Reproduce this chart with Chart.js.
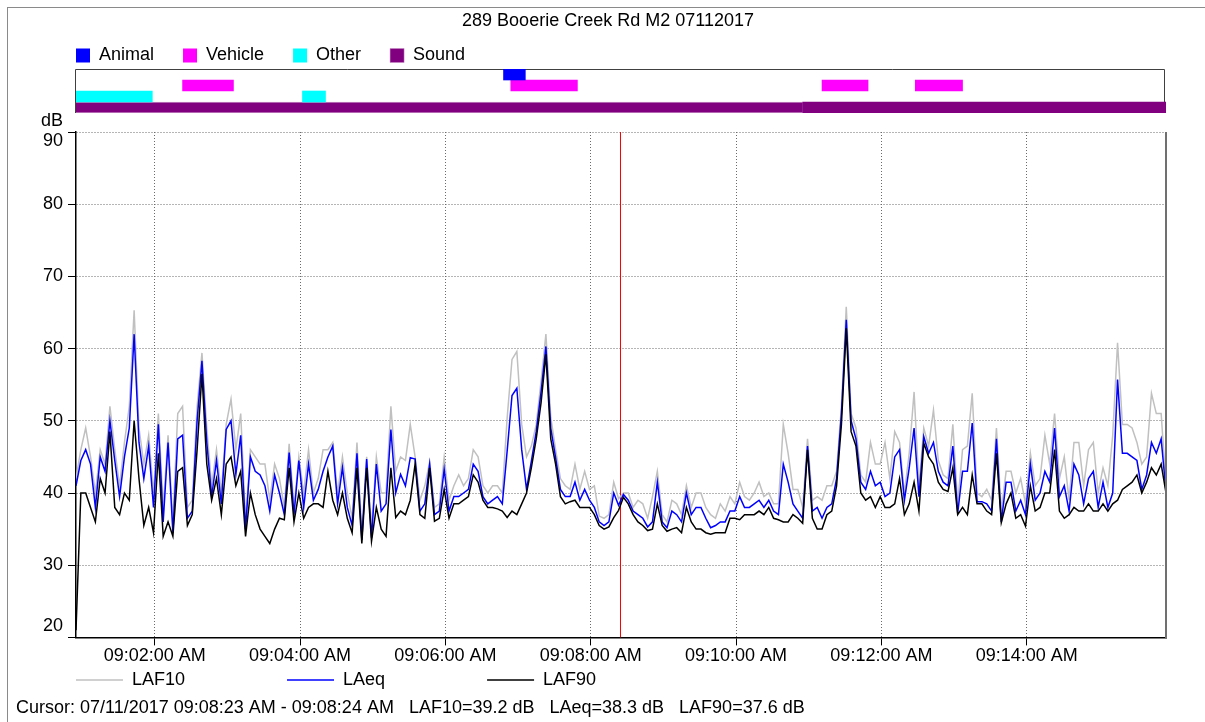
<!DOCTYPE html>
<html>
<head>
<meta charset="utf-8">
<script src="https://cdn.jsdelivr.net/npm/chart.js@4.4.1/dist/chart.umd.min.js"></script>
<style>
html,body{margin:0;padding:0;background:#fff;}
body{width:1205px;height:722px;position:relative;overflow:hidden;}
#frame{position:absolute;left:7px;top:7px;width:1198px;height:715px;border-left:1px solid #8a8a8a;border-top:1px solid #8a8a8a;box-sizing:border-box;}
#ev{position:absolute;left:0;top:0;}
#lv{position:absolute;left:0;top:100px;}
canvas{display:block;}
</style>
</head>
<body>
<div id="frame"></div>
<canvas id="ev" width="1205" height="118"></canvas>
<canvas id="lv" width="1205" height="622"></canvas>
<script>
// ---------- data ----------
const TITLE = '289 Booerie Creek Rd M2 07112017';
const DATE_TEXT = '07/11/2017';
const START_S = 55;   // seconds after 09:00:00
const STEP_S = 4;
const END_S = 955;
const X_TICKS = [120, 240, 360, 480, 600, 720, 840];
const Y_TICKS = [20, 30, 40, 50, 60, 70, 80, 90];
const SERIES_NAMES = ['LAF10', 'LAeq', 'LAF90'];

const LAF10 = [42,46,49,45,40,46,44,52,46,41,47,52,65.3,49,44,48,40,51,38,48,
36,51,52,38,39,52,59.4,49,41,46,40,49.5,53,46,51,36,46,45,44,44,
39,44,42,38,46.8,38,45,40,46,40,42,46,46,47,40,45,40,36.5,47,34.5,
45,35,45,40,40,52,43,45,44.5,49.5,45,39,41,44.3,38,38.5,45,39,41,42.5,
41,42,46,45,41,40,41,41,40,50.4,58.5,59.6,49.5,45,46.5,49.5,55.5,62,50.5,46,
42,41,40.5,44,40.5,43,40.5,41,36.8,36.5,37,41.5,39.2,40,40,38,39,38.5,36.5,39.5,
43,37,36,39,38.5,37,41,38,40,40,38,37,36.5,38.5,37.5,39.5,38.5,41.5,39.5,39,
40,41.5,39.5,40,38.5,38.5,49.5,45.5,40.5,40.5,38,47.5,39,39.5,39,41,41,43,52,65.8,
51,49,42.5,41.5,47,44,44,47,42,48.5,47,40,45.5,54,41,49,46.5,51.5,44.5,42.5,
42,49.5,38.5,46,46.5,53.8,40,39.5,40.5,39,49,37.5,43,43,40,42,38.5,45.5,41,42,
48,44,51,42,45,39,47,47,41,46,47,40,43.5,41,48,60.8,49.5,49.5,49,47,
44,45,53.8,51,51,41];

const LAEQ = [41,44.5,46,44,38,45,43,50,44.5,39.5,45,49,62,47,42,46.5,38,49.5,36,47,
34.5,47.5,48,36.5,37.5,50,58.3,47,39.5,44.5,38.5,48.8,50,42.6,48,35,45,43,42.5,41,
37.5,42.5,40,37,45.6,37,44.5,38,44,39,40.5,43,45,46.5,38.5,43.5,38,35.5,45.5,33.5,
44.7,33.8,44,37.5,38.5,48.8,40,42.6,41,44.9,44.7,37.5,38.5,44,37,37.5,43.3,37.5,39.5,39.5,
40,40.5,44,43,39.5,38.5,39,39.5,38.5,45.8,53.5,54.5,46,40.5,44.4,48.5,54,60.3,49,44.9,
40.5,39.5,39.5,41.5,39,40.5,39,38,36,35.5,36,40,38.3,39.8,39,37.5,37,36.5,35.3,36,
41.5,36,35.2,37.5,37,36,40,37,38,38,36.5,35.2,35.5,36,36,37.5,37.5,39.5,38,38,
38.5,39,38,39,37.5,37,44,41.5,38.5,37.5,36.5,46.5,37.5,38,36.5,38,38.5,42,51,64,
50,47.5,41.5,40.5,43,41,41.5,39.5,40,45,46,39,43.5,49,39.5,47.8,45.5,47,43,41.5,
41,46.5,37.2,43,43,49.7,38.8,38.8,38.5,37.5,47.5,36,41.5,41.5,37.5,39,37,44,39,40,
43,41.5,49,39.5,41,37.5,44,42.5,38.5,42,43,38,41.5,38,40,55.7,45.5,45.5,45,44.5,
40.5,42.5,47,45.5,47.5,40.2];

const LAF90 = [21,40,40,38,36,42,40,48.5,38,37,40,39,50,42,35.5,38,34.5,45.5,34,36,
34,43,43.5,35.5,37,46,56.5,44,39,42,37,44,45,41,43,34,40,37,35,34,
33,35,36.5,36.3,43.5,36,40,36.5,38,38.5,38.5,38,43,39,37,40,36.5,34.5,43.5,33,
43.5,33.3,38,35,34,43.5,36.6,37.5,37,39,44,37,36.5,43.5,36.1,36.5,40.5,36.5,38.5,38.5,
39,39.5,42.5,41.5,39,38,38,37.8,37.5,36.6,37.5,37,38.5,40,43.5,47.5,52.5,59.2,47.5,44,
39.5,38.5,38.8,39,38,38,38,37,35.5,35,35.3,36.6,37.6,39.4,38.5,37,36,35.5,34.8,35,
38.5,35.5,34.7,35,35.2,34.5,38,36,35,35,34.5,34.3,34.5,34.5,34.5,36.5,36.5,36.3,37,37,
37,37.5,37,38,36.5,36.3,36,36,37,36.5,35.8,46,36.5,35,35,37,37.5,41,49.5,62.8,
48.5,46.5,40,39,39.5,38,39.5,38,38,38.5,42,37,38.5,41.5,37.5,46.9,45,44,41.5,40.5,
40.2,43.5,37,38,37,42.5,38.5,38.5,37.5,37,45.5,35.9,38.5,40,36.5,37,35.4,41,37.5,38,
40,40,46,37.5,36.5,37,38,37.5,37.5,38.5,37.5,37.5,38.5,37.5,38.5,39,40.5,41,41.5,42.5,
40,41.5,43.5,42.5,44,40];

const EVENT_TYPES = ['Animal', 'Vehicle', 'Other', 'Sound'];
const ANIMAL_EVENTS = [[408, 426]];
const VEHICLE_EVENTS = [[143, 185], [414, 469], [671, 709], [748, 787]];
const OTHER_EVENTS = [[55, 118], [242, 261]];
const SOUND_EVENTS = [[55, 655], [655, 955]];

const CURSOR_RANGE = [503, 504];
const CURSOR_VALUES = [39.2, 38.3, 37.6];

// ---------- helpers ----------
function fmtTime(t) {
  const m = Math.floor(t / 60), s = Math.round(t % 60);
  return '09:' + String(m).padStart(2, '0') + ':' + String(s).padStart(2, '0') + ' AM';
}
const pts = arr => arr.map((v, i) => ({x: START_S + i * STEP_S, y: v}));
const CURSOR_TEXT = 'Cursor: ' + DATE_TEXT + ' ' + fmtTime(CURSOR_RANGE[0]) + ' - ' + fmtTime(CURSOR_RANGE[1]) +
  '   ' + SERIES_NAMES.map((n, k) => n + '=' + CURSOR_VALUES[k].toFixed(1) + ' dB').join('   ');

const FONT = '"Liberation Sans", Arial, sans-serif';
Chart.defaults.font.family = FONT;
Chart.defaults.font.size = 18;
Chart.defaults.color = '#000';

const blockPlace = {
  id: 'blockPlace',
  beforeDraw(chart, args, opts) {
    const lg = chart.legend;
    if (lg && opts.x != null) {
      const p = lg.options.labels.padding;
      lg.left = opts.x - p;
      lg.top = opts.y - p - opts.fs / 2;
    }
    const tb = chart.titleBlock;
    if (tb && opts.titleCenter != null) {
      const half = Math.min(opts.titleCenter, chart.width - opts.titleCenter);
      tb.left = opts.titleCenter - half;
      tb.right = opts.titleCenter + half;
      tb.width = 2 * half;
    }
  }
};

const eventFrame = {
  id: 'eventFrame',
  beforeDatasetsDraw(chart) {
    const a = chart.chartArea, c = chart.ctx;
    c.save();
    c.strokeStyle = '#404040';
    c.lineWidth = 1;
    c.beginPath();
    c.moveTo(a.left - 0.5, a.bottom);
    c.lineTo(a.left - 0.5, a.top + 0.5);
    c.lineTo(a.right - 1.5, a.top + 0.5);
    c.lineTo(a.right - 1.5, a.bottom);
    c.stroke();
    c.restore();
  }
};

const levelDecor = {
  id: 'levelDecor',
  beforeDatasetsDraw(chart) {
    const a = chart.chartArea, c = chart.ctx;
    const x = Math.round(chart.scales.x.getPixelForValue(CURSOR_RANGE[1])) + 0.5;
    c.save();
    c.strokeStyle = '#ff0000';
    c.lineWidth = 1;
    c.beginPath(); c.moveTo(x, a.top); c.lineTo(x, a.bottom); c.stroke();
    c.restore();
  },
  afterDatasetsDraw(chart) {
    const a = chart.chartArea, c = chart.ctx;
    c.save();
    c.strokeStyle = '#707070';
    c.lineWidth = 2;
    c.beginPath(); c.moveTo(a.right, a.top); c.lineTo(a.right, a.bottom + 1); c.stroke();
    c.restore();
  },
  afterDraw(chart) {
    const ys = chart.scales.y, c = chart.ctx;
    const xr = ys.right - 8 - 5;
    c.save();
    c.font = '18px ' + FONT;
    c.fillStyle = '#000';
    c.textAlign = 'right';
    c.textBaseline = 'middle';
    const top = Y_TICKS[Y_TICKS.length - 1], bot = Y_TICKS[0];
    c.fillText(String(top), xr, ys.getPixelForValue(top) + 9.5);
    c.fillText(String(bot), xr, ys.getPixelForValue(bot) - 11);
    c.fillText('dB', xr, chart.chartArea.top - 11);
    c.restore();
  }
};

// ---------- event chart ----------
const EVENT_SETS = [ANIMAL_EVENTS, VEHICLE_EVENTS, OTHER_EVENTS, SOUND_EVENTS];
const EVENT_COLORS = ['#0000ff', '#ff00ff', '#00ffff', '#800080'];

new Chart(document.getElementById('ev'), {
  type: 'bar',
  data: {
    labels: EVENT_TYPES,
    datasets: EVENT_TYPES.map((name, k) => ({
      label: name,
      data: EVENT_SETS[k].map(r => ({x: r, y: name})),
      backgroundColor: EVENT_COLORS[k],
      borderColor: name === 'Sound' ? '#c48ac4' : EVENT_COLORS[k],
      borderWidth: ctx => (name === 'Sound' && ctx.dataIndex === 0) ? {top: 1, bottom: 1, left: 0, right: 0} : 0,
      borderSkipped: false,
      grouped: false,
      barPercentage: 1,
      categoryPercentage: 1
    }))
  },
  options: {
    indexAxis: 'y',
    responsive: false,
    animation: false,
    devicePixelRatio: 1,
    layout: {padding: {left: 76, right: 39, top: 0, bottom: 5}},
    scales: {
      x: {type: 'linear', min: START_S, max: END_S, display: false},
      y: {type: 'category', display: false}
    },
    plugins: {
      title: {display: true, text: TITLE, color: '#000', font: {size: 18, weight: 'normal'}, padding: {top: 10, bottom: 0}},
      legend: {
        position: 'top', align: 'start', maxHeight: 37.4,
        labels: {boxWidth: 14, boxHeight: 14, padding: 29, color: '#000', font: {size: 18}}
      },
      blockPlace: {x: 76, y: 55.5, fs: 18, titleCenter: 608},
      tooltip: {enabled: false}
    }
  },
  plugins: [blockPlace, eventFrame]
});

// ---------- level chart ----------
const GRID = {color: '#6a6a6a', lineWidth: 1, drawTicks: true, tickLength: 8, tickColor: '#000', tickWidth: 1, tickBorderDash: []};
const BORDER = {display: true, color: '#000', width: 1.5, dash: [1, 2]};

new Chart(document.getElementById('lv'), {
  type: 'line',
  data: {
    datasets: [
      {label: SERIES_NAMES[0], data: pts(LAF10), borderColor: '#c0c0c0', backgroundColor: '#c0c0c0', borderWidth: 1.5, pointRadius: 0, tension: 0, order: 3},
      {label: SERIES_NAMES[1], data: pts(LAEQ), borderColor: '#0000ff', backgroundColor: '#0000ff', borderWidth: 1.5, pointRadius: 0, tension: 0, order: 2},
      {label: SERIES_NAMES[2], data: pts(LAF90), borderColor: '#000000', backgroundColor: '#000000', borderWidth: 1.5, pointRadius: 0, tension: 0, order: 1}
    ]
  },
  options: {
    responsive: false,
    animation: false,
    devicePixelRatio: 1,
    layout: {padding: {left: 16, right: 39, top: 32, bottom: 0}},
    scales: {
      x: {
        type: 'linear', min: START_S, max: END_S,
        afterBuildTicks: s => { s.ticks = X_TICKS.map(v => ({value: v})); },
        afterFit: s => { s.height = 30; },
        ticks: {callback: v => fmtTime(v), padding: 0, maxRotation: 0, autoSkip: false, color: '#000', font: {size: 18}},
        grid: GRID,
        border: BORDER
      },
      y: {
        type: 'linear', min: Y_TICKS[0], max: Y_TICKS[Y_TICKS.length - 1],
        afterBuildTicks: s => { s.ticks = Y_TICKS.map(v => ({value: v})); },
        afterFit: s => { s.width = 60; },
        ticks: {
          callback: v => (v === Y_TICKS[0] || v === Y_TICKS[Y_TICKS.length - 1]) ? '' : String(v),
          padding: 5, color: '#000', font: {size: 18}
        },
        grid: GRID,
        border: BORDER
      }
    },
    plugins: {
      legend: {
        position: 'bottom', align: 'start', maxHeight: 26,
        labels: {
          usePointStyle: true, pointStyle: 'line', pointStyleWidth: 47, padding: 102,
          color: '#000', font: {size: 18},
          sort: (a, b) => a.datasetIndex - b.datasetIndex
        }
      },
      subtitle: {
        display: true, position: 'bottom', align: 'start', text: CURSOR_TEXT,
        color: '#000', font: {size: 18, weight: 'normal'}, padding: {top: 4, bottom: 3}
      },
      blockPlace: {x: 76, y: 580, fs: 18},
      tooltip: {enabled: false}
    }
  },
  plugins: [blockPlace, levelDecor]
});
</script>
</body>
</html>
